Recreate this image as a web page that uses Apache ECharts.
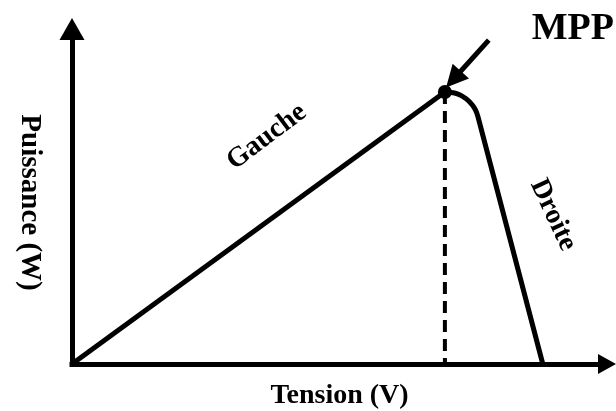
<!DOCTYPE html>
<html>
<head>
<meta charset="utf-8">
<script src="https://cdn.jsdelivr.net/npm/echarts@6/dist/echarts.min.js"></script>
<style>
  html, body { margin: 0; padding: 0; background: #fff; }
  #chart { width: 616px; height: 411px; }
</style>
</head>
<body>
<div id="chart"></div>
<script>
// courbe P(V) schematique, valeurs relatives (0..100)
const gaucheX = [0, 69.7]
const gaucheY = [0, 81.2]
const droiteX = [69.7, 71.5, 73, 74.3, 75.3, 75.9, 88]
const droiteY = [81.2, 80.9, 79.9, 78.3, 76.2, 73.7, 0]
const mppX = 69.7
const mppY = 81.2
const arrowFrom = [77.9, 96.7]
const arrowTo = [71.3, 85.0]
const labelPos = { Gauche: [36.4, 67.8], Droite: [89.9, 44.5] }

const serif = '"Liberation Serif", "Times New Roman", serif'
const chart = echarts.init(document.getElementById('chart'))

const pairs = (xs, ys) => xs.map((x, i) => [x, ys[i]])

chart.setOption({
  backgroundColor: '#fff',
  animation: false,
  title: {
    text: 'MPP',
    right: 2,
    top: 10,
    padding: 0,
    textStyle: { fontFamily: serif, fontWeight: 'bold', fontSize: 38, color: '#000' }
  },
  grid: { left: 72, right: 9, top: 29, bottom: 47, containLabel: false, outerBoundsMode: 'none' },
  xAxis: {
    type: 'value',
    min: 0,
    max: 100,
    name: 'Tension (V)',
    nameLocation: 'middle',
    nameGap: 18,
    nameTextStyle: { fontFamily: serif, fontWeight: 'bold', fontSize: 28, color: '#000' },
    axisLine: {
      lineStyle: { color: '#000', width: 5, cap: 'square' },
      symbol: ['none', 'triangle'],
      symbolSize: [20, 18]
    },
    axisTick: { show: false },
    axisLabel: { show: false },
    splitLine: { show: false }
  },
  yAxis: {
    type: 'value',
    min: 0,
    max: 100,
    name: 'Puissance (W)',
    nameLocation: 'middle',
    nameRotate: -90,
    nameGap: 28,
    nameTextStyle: { fontFamily: serif, fontWeight: 'bold', fontSize: 29, color: '#000', padding: [0, 0, 0, 12] },
    axisLine: {
      show: true,
      lineStyle: { color: '#000', width: 5, cap: 'square' },
      symbol: ['none', 'triangle'],
      symbolSize: [25, 22]
    },
    axisTick: { show: false },
    axisLabel: { show: false },
    splitLine: { show: false }
  },
  series: [
    {
      name: 'Gauche',
      type: 'line',
      data: pairs(gaucheX, gaucheY),
      showSymbol: false,
      lineStyle: { color: '#000', width: 5 }
    },
    {
      name: 'Droite',
      type: 'line',
      data: pairs(droiteX, droiteY),
      smooth: 0.5,
      showSymbol: false,
      lineStyle: { color: '#000', width: 5 }
    },
    {
      name: 'Vmpp',
      type: 'line',
      data: [[mppX, mppY], [mppX, 0]],
      showSymbol: false,
      lineStyle: { color: '#000', width: 4, type: [12, 7] }
    },
    {
      name: 'MPP',
      type: 'scatter',
      data: [[mppX, mppY]],
      symbolSize: 14,
      itemStyle: { color: '#000', opacity: 1 },
      z: 5
    },
    {
      name: 'fleche',
      type: 'lines',
      coordinateSystem: 'cartesian2d',
      symbol: ['none', 'triangle'],
      symbolSize: [26, 22],
      lineStyle: { color: '#000', width: 5, opacity: 1 },
      data: [{ coords: [arrowFrom, arrowTo] }],
      z: 5
    },
    {
      name: 'labels',
      type: 'scatter',
      symbolSize: 0,
      itemStyle: { color: '#000', opacity: 1 },
      data: [
        { name: 'Gauche', value: labelPos.Gauche, label: { rotate: 37 } },
        { name: 'Droite', value: labelPos.Droite, label: { rotate: -65 } }
      ],
      label: {
        show: true,
        position: 'inside',
        formatter: p => p.name,
        fontFamily: serif,
        fontWeight: 'bold',
        fontSize: 28,
        color: '#000',
        textBorderWidth: 0,
        opacity: 1
      }
    }
  ]
})
</script>
</body>
</html>
